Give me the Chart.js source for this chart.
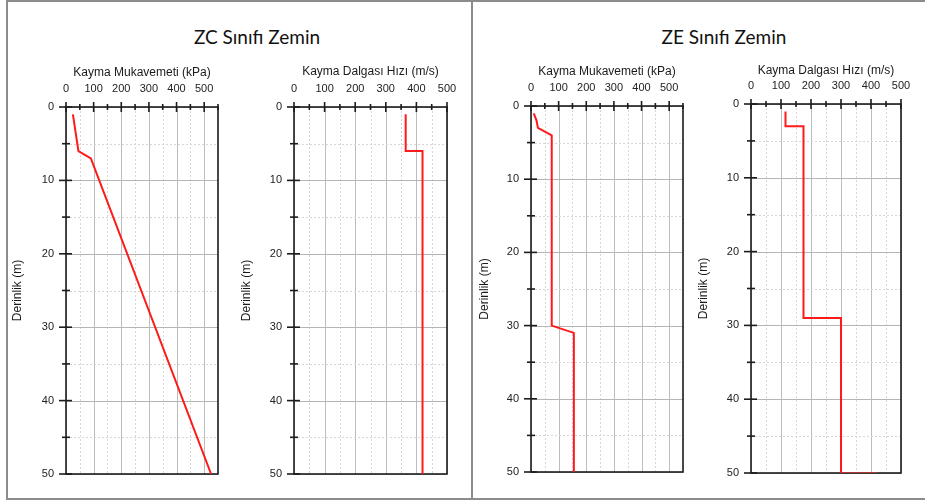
<!DOCTYPE html>
<html lang="tr">
<head>
<meta charset="utf-8">
<title>ZC / ZE Sınıfı Zemin</title>
<script src="https://cdn.jsdelivr.net/npm/chart.js@4.4.1/dist/chart.umd.min.js"></script>
<style>
  body { margin: 0; background: #fff; }
  #page { position: relative; width: 925px; height: 500px; overflow: hidden; background: #fff; }
  .frame { position: absolute; left: 6px; top: 0; width: 940px; height: 496px;
           border-left: 2px solid #8c8c8c; border-top: 2px solid #8c8c8c; border-bottom: 2px solid #8c8c8c; }
  .sep { position: absolute; left: 471px; top: 0; width: 2px; height: 498px; background: #8c8c8c; }
  .head { position: absolute; top: 25px; width: 240px; text-align: center;
          font-family: Lato, "Noto Sans", sans-serif; font-size: 19px; color: #111; }
  canvas { position: absolute; }
</style>
</head>
<body>
<div id="page">
  <div class="frame"></div>
  <div class="sep"></div>
  <div class="head" style="left:137px">ZC Sınıfı Zemin</div>
  <div class="head" style="left:604px">ZE Sınıfı Zemin</div>
  <canvas id="zcSu" width="220" height="419" style="left:10px;top:65px;width:220px;height:419px"></canvas>
  <canvas id="zcVs" width="220" height="420" style="left:239px;top:64px;width:220px;height:420px"></canvas>
  <canvas id="zeSu" width="218" height="418" style="left:477px;top:64px;width:218px;height:418px"></canvas>
  <canvas id="zeVs" width="217" height="420" style="left:696px;top:63px;width:217px;height:420px"></canvas>
</div>
<script>
// depth (m) and value pairs
const zcSuDepth = [1, 6, 7, 50];
const zcSuValue = [25, 45, 90, 525];

const zcVsDepth = [1, 6, 6, 50];
const zcVsValue = [365, 365, 420, 420];

const zeSuDepth = [1, 2, 3, 4, 30, 31, 50];
const zeSuValue = [10, 20, 25, 75, 75, 155, 155];

const zeVsDepth = [1, 3, 3, 29, 29, 50];
const zeVsValue = [115, 115, 175, 175, 300, 300];
// short faint piece running along the bottom axis
const zeVsTailDepth = [50, 50];
const zeVsTailValue = [300, 420];

// axis text and ranges
const suTitle = 'Kayma Mukavemeti (kPa)';
const vsTitle = 'Kayma Dalgası Hızı (m/s)';
const depthTitle = 'Derinlik (m)';
const suMax = 550;
const vsMax = 500;
const depthMax = 50;

const tickFont = { family: 'Liberation Sans, Arial, sans-serif', size: 11 };
const titleFont = { family: 'Liberation Sans, Arial, sans-serif', size: 12 };

function toPoints(values, depths) {
    return values.map((v, i) => ({ x: v, y: depths[i] }));
}

// grid lines, box and crossing ticks, drawn under the red line
const gridPlugin = {
    id: 'soilGrid',
    beforeDatasetsDraw(chart) {
        const { ctx, chartArea: a, scales: { x, y } } = chart;
        ctx.save();
        ctx.lineWidth = 1;

        // vertical grid lines every 50, solid at the hundreds
        for (let v = 0; v <= x.max; v += 50) {
            const px = Math.round(x.getPixelForValue(v)) + 0.5;
            const major = v % 100 === 0;
            ctx.strokeStyle = major ? '#bdbdbd' : '#d6d6d6';
            ctx.setLineDash(major ? [] : [2, 2]);
            ctx.beginPath();
            ctx.moveTo(px, a.top);
            ctx.lineTo(px, a.bottom);
            ctx.stroke();
        }
        // horizontal grid lines every 5 m
        for (let v = 0; v <= y.max; v += 5) {
            const py = Math.round(y.getPixelForValue(v)) + 0.5;
            const major = v % 10 === 0;
            ctx.strokeStyle = major ? '#b5b5b5' : '#d6d6d6';
            ctx.setLineDash(major ? [] : [2, 2]);
            ctx.beginPath();
            ctx.moveTo(a.left, py);
            ctx.lineTo(a.right, py);
            ctx.stroke();
        }

        // plot box
        ctx.setLineDash([]);
        ctx.strokeStyle = '#1c1c1c';
        ctx.lineWidth = 1.6;
        ctx.strokeRect(a.left, a.top, a.right - a.left, a.bottom - a.top);

        // ticks on top axis
        for (let v = 0; v <= x.max; v += 50) {
            const px = x.getPixelForValue(v);
            const len = v % 100 === 0 ? 5 : 3;
            ctx.beginPath();
            ctx.moveTo(px, a.top - len);
            ctx.lineTo(px, a.top + len);
            ctx.stroke();
        }
        // ticks on left axis
        for (let v = 0; v <= y.max; v += 5) {
            const py = y.getPixelForValue(v);
            const major = v % 10 === 0;
            ctx.beginPath();
            ctx.moveTo(a.left - (major ? 7 : 4), py);
            ctx.lineTo(a.left + (major ? 6 : 4), py);
            ctx.stroke();
        }
        ctx.restore();
    }
};

function makeProfile(canvasId, datasets, xTitle, xMax, yWidth, xHeight) {
    const ctx = document.getElementById(canvasId).getContext('2d');
    return new Chart(ctx, {
        type: 'scatter',
        data: {
            datasets: datasets.map(d => ({
                data: d.points,
                showLine: true,
                borderColor: d.color,
                borderWidth: 2,
                pointRadius: 0,
                fill: false,
                tension: 0
            }))
        },
        options: {
            responsive: false,
            animation: false,
            devicePixelRatio: 1,
            layout: { padding: { left: 0, top: 0, right: 12, bottom: 10 } },
            plugins: {
                legend: { display: false },
                tooltip: { enabled: false }
            },
            scales: {
                x: {
                    type: 'linear',
                    position: 'top',
                    min: 0,
                    max: xMax,
                    grid: { display: false, drawTicks: false },
                    border: { display: false },
                    ticks: {
                        stepSize: 50,
                        autoSkip: false,
                        maxRotation: 0,
                        padding: 11,
                        color: '#222',
                        font: tickFont,
                        callback: v => (v % 100 === 0 ? v : '')
                    },
                    title: { display: true, text: xTitle, color: '#1a1a1a', font: titleFont, padding: 0 },
                    // fixed axis band, no extra side padding
                    afterFit: scale => {
                        scale.height = xHeight;
                        scale.paddingLeft = 0;
                        scale.paddingRight = 0;
                    }
                },
                y: {
                    type: 'linear',
                    reverse: true,
                    min: 0,
                    max: depthMax,
                    grid: { display: false, drawTicks: false },
                    border: { display: false },
                    ticks: {
                        stepSize: 5,
                        autoSkip: false,
                        padding: 12,
                        color: '#222',
                        font: tickFont,
                        callback: v => (v % 10 === 0 ? v : '')
                    },
                    title: { display: true, text: depthTitle, color: '#1a1a1a', font: titleFont, padding: 0 },
                    afterFit: scale => {
                        scale.width = yWidth;
                        scale.paddingTop = 0;
                        scale.paddingBottom = 0;
                    }
                }
            }
        },
        plugins: [gridPlugin]
    });
}

const red = '#ff1a1a';

makeProfile('zcSu', [{ points: toPoints(zcSuValue, zcSuDepth), color: red }], suTitle, suMax, 56, 42);
makeProfile('zcVs', [{ points: toPoints(zcVsValue, zcVsDepth), color: red }], vsTitle, vsMax, 55, 43);
makeProfile('zeSu', [{ points: toPoints(zeSuValue, zeSuDepth), color: red }], suTitle, suMax, 54, 42);
makeProfile('zeVs', [
    { points: toPoints(zeVsValue, zeVsDepth), color: red },
    { points: toPoints(zeVsTailValue, zeVsTailDepth), color: 'rgba(255, 40, 40, 0.55)' }
], vsTitle, vsMax, 55, 41);
</script>
</body>
</html>
